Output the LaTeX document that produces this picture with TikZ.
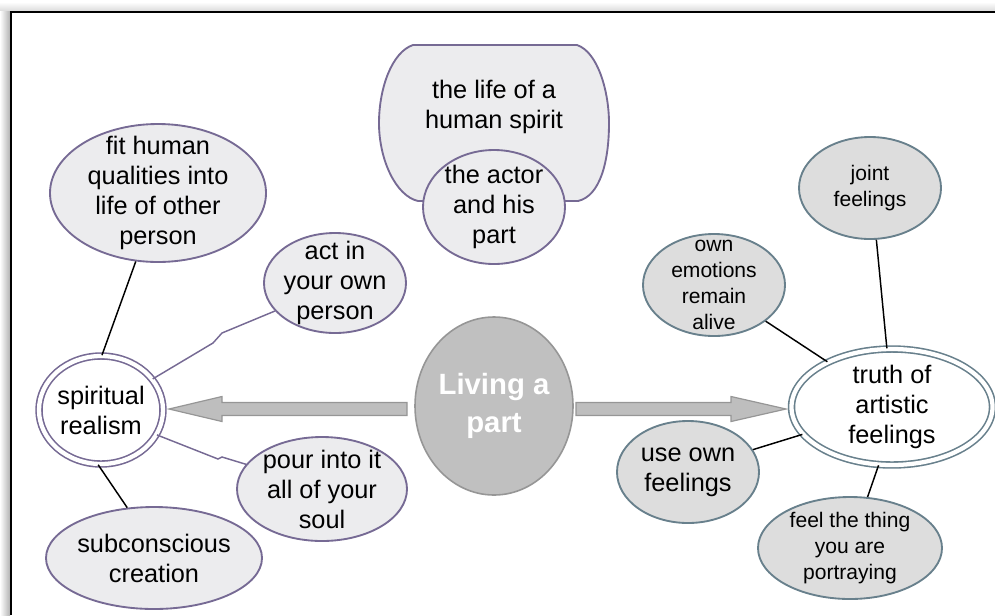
\documentclass[tikz,border=0pt]{standalone}
\usepackage{fontspec}
\setmainfont{Liberation Sans}
\usetikzlibrary{shapes.geometric,calc}

% one drawing unit = one screen pixel
\newlength\pxu
\setlength\pxu{0.75pt}

\definecolor{lilac}{RGB}{118,106,148}
\definecolor{slate}{RGB}{104,128,140}
\definecolor{paleL}{RGB}{236,236,238}
\definecolor{paleR}{RGB}{221,221,221}
\definecolor{hubfill}{RGB}{192,192,192}
\definecolor{hubline}{RGB}{150,150,150}
\definecolor{arrowfill}{RGB}{190,190,190}

\tikzset{
  txt/.style={font=\fontsize{19}{22.5}\selectfont, align=center, inner sep=0pt, text=black},
  smalltxt/.style={font=\fontsize{15.8}{19.5}\selectfont, align=center, inner sep=0pt, text=black},
  hubtxt/.style={font=\fontsize{22}{28.5}\selectfont\bfseries, align=center, inner sep=0pt, text=white},
  bubL/.style={ellipse, draw=lilac, fill=paleL, line width=1.4pt, inner sep=0pt},
  bubR/.style={ellipse, draw=slate, fill=paleR, line width=1.4pt, inner sep=0pt},
  ringL/.style={ellipse, draw=lilac, double=white, double distance=3.2pt, line width=1.2pt, inner sep=0pt},
  ringR/.style={ellipse, draw=slate, double=white, double distance=3.2pt, line width=1.2pt, inner sep=0pt},
  hub/.style={ellipse, draw=hubline, fill=hubfill, line width=1.2pt, inner sep=0pt},
  sz/.style 2 args={minimum width=#1*\pxu, minimum height=#2*\pxu},
  link/.style={draw=black, line width=1.1pt},
  linkL/.style={draw=lilac, line width=1.1pt},
  fatarrow/.style={draw=hubline, fill=arrowfill, line width=0.9pt, line join=miter},
}

\begin{document}
\begin{tikzpicture}[x=0.75pt, y=-0.75pt]
\useasboundingbox (0,0) rectangle (995,615);

% window frame with its soft shadow
\shade[top color=white, bottom color=black!14] (0,2) rectangle (995,11);
\shade[left color=white, right color=black!30] (0,11) rectangle (10,615);
\draw[line width=1.6pt, black] (11,615) -- (11,12) -- (995,12);

% centre
\node[hub, sz={158}{178}, label={[hubtxt]center:{Living a\\part}}] (live) at (494,406) {};

% top: the life of a human spirit
\draw[lilac, fill=paleL, line width=1.4pt]
  (413,45) -- (577,45)
  .. controls (598,52) and (609,92) .. (609,123)
  .. controls (609,162) and (600,196) .. (578,201)
  -- (418,201)
  .. controls (396,196) and (379,160) .. (379,123)
  .. controls (379,88) and (392,52) .. (413,45) -- cycle;
\node[txt] (life) at (494,107) {the life of a\\human spirit};
\node[bubL, sz={142}{114}, label={[txt]center:{the actor\\and his\\part}}] (actor) at (494,207) {};

% left cluster
\node[ringL, sz={124}{108}, label={[txt]center:{spiritual\\realism}}] (sr) at (101,410) {};
\node[bubL, sz={216}{138}, label={[txt]center:{fit human\\qualities into\\life of other\\person}}] (fit) at (158,193) {};
\node[bubL, sz={142}{100}, label={[txt]center:{act in\\your own\\person}}] (act) at (335,283) {};
\node[bubL, sz={170}{104}, label={[txt]center:{pour into it\\all of your\\soul}}] (pour) at (322,489) {};
\node[bubL, sz={216}{102}, label={[txt]center:{subconscious\\creation}}] (sub) at (154,558) {};

\draw[link] (fit.252) -- (sr.89);
\draw[link] (sr.267) -- (sub.118);
\draw[linkL] (sr.31) -- (213,343) -- (222,333) -- (act.205);
\draw[linkL] (sr.336) -- (218,459) -- (222,457) -- (pour.162);

% right cluster
\node[ringR, sz={201}{116}, label={[txt]center:{truth of\\artistic\\feelings}}] (truth) at (892,407) {};
\node[bubR, sz={142}{102}, label={[smalltxt]center:{joint\\feelings}}] (joint) at (870,188) {};
\node[bubR, sz={142}{102}, label={[smalltxt]center:{own\\emotions\\remain\\alive}}] (own) at (714,285) {};
\node[bubR, sz={142}{102}, label={[txt]center:{use own\\feelings}}] (use) at (688,472) {};
\node[bubR, sz={184}{102}, label={[smalltxt]center:{feel the thing\\you are\\portraying}}] (feel) at (850,548) {};

\draw[link] (joint.277) -- (truth.95);
\draw[link] (own.325) -- (truth.145);
\draw[link] (use.19) -- (truth.197);
\draw[link] (truth.257) -- (feel.71);

% broad arrows from the centre
\coordinate (lt) at (407,409);
\coordinate (lh) at (169,409);
\draw[fatarrow] ($(lt)+(0,-6.5)$) -- ($(lh)+(53,-6.5)$) -- ($(lh)+(53,-12.5)$) -- (lh)
  -- ($(lh)+(53,12.5)$) -- ($(lh)+(53,6.5)$) -- ($(lt)+(0,6.5)$) -- cycle;
\coordinate (rt) at (576,409);
\coordinate (rh) at (786,409);
\draw[fatarrow] ($(rt)+(0,-6.5)$) -- ($(rh)+(-55,-6.5)$) -- ($(rh)+(-55,-12.5)$) -- (rh)
  -- ($(rh)+(-55,12.5)$) -- ($(rh)+(-55,6.5)$) -- ($(rt)+(0,6.5)$) -- cycle;
\end{tikzpicture}
\end{document}
